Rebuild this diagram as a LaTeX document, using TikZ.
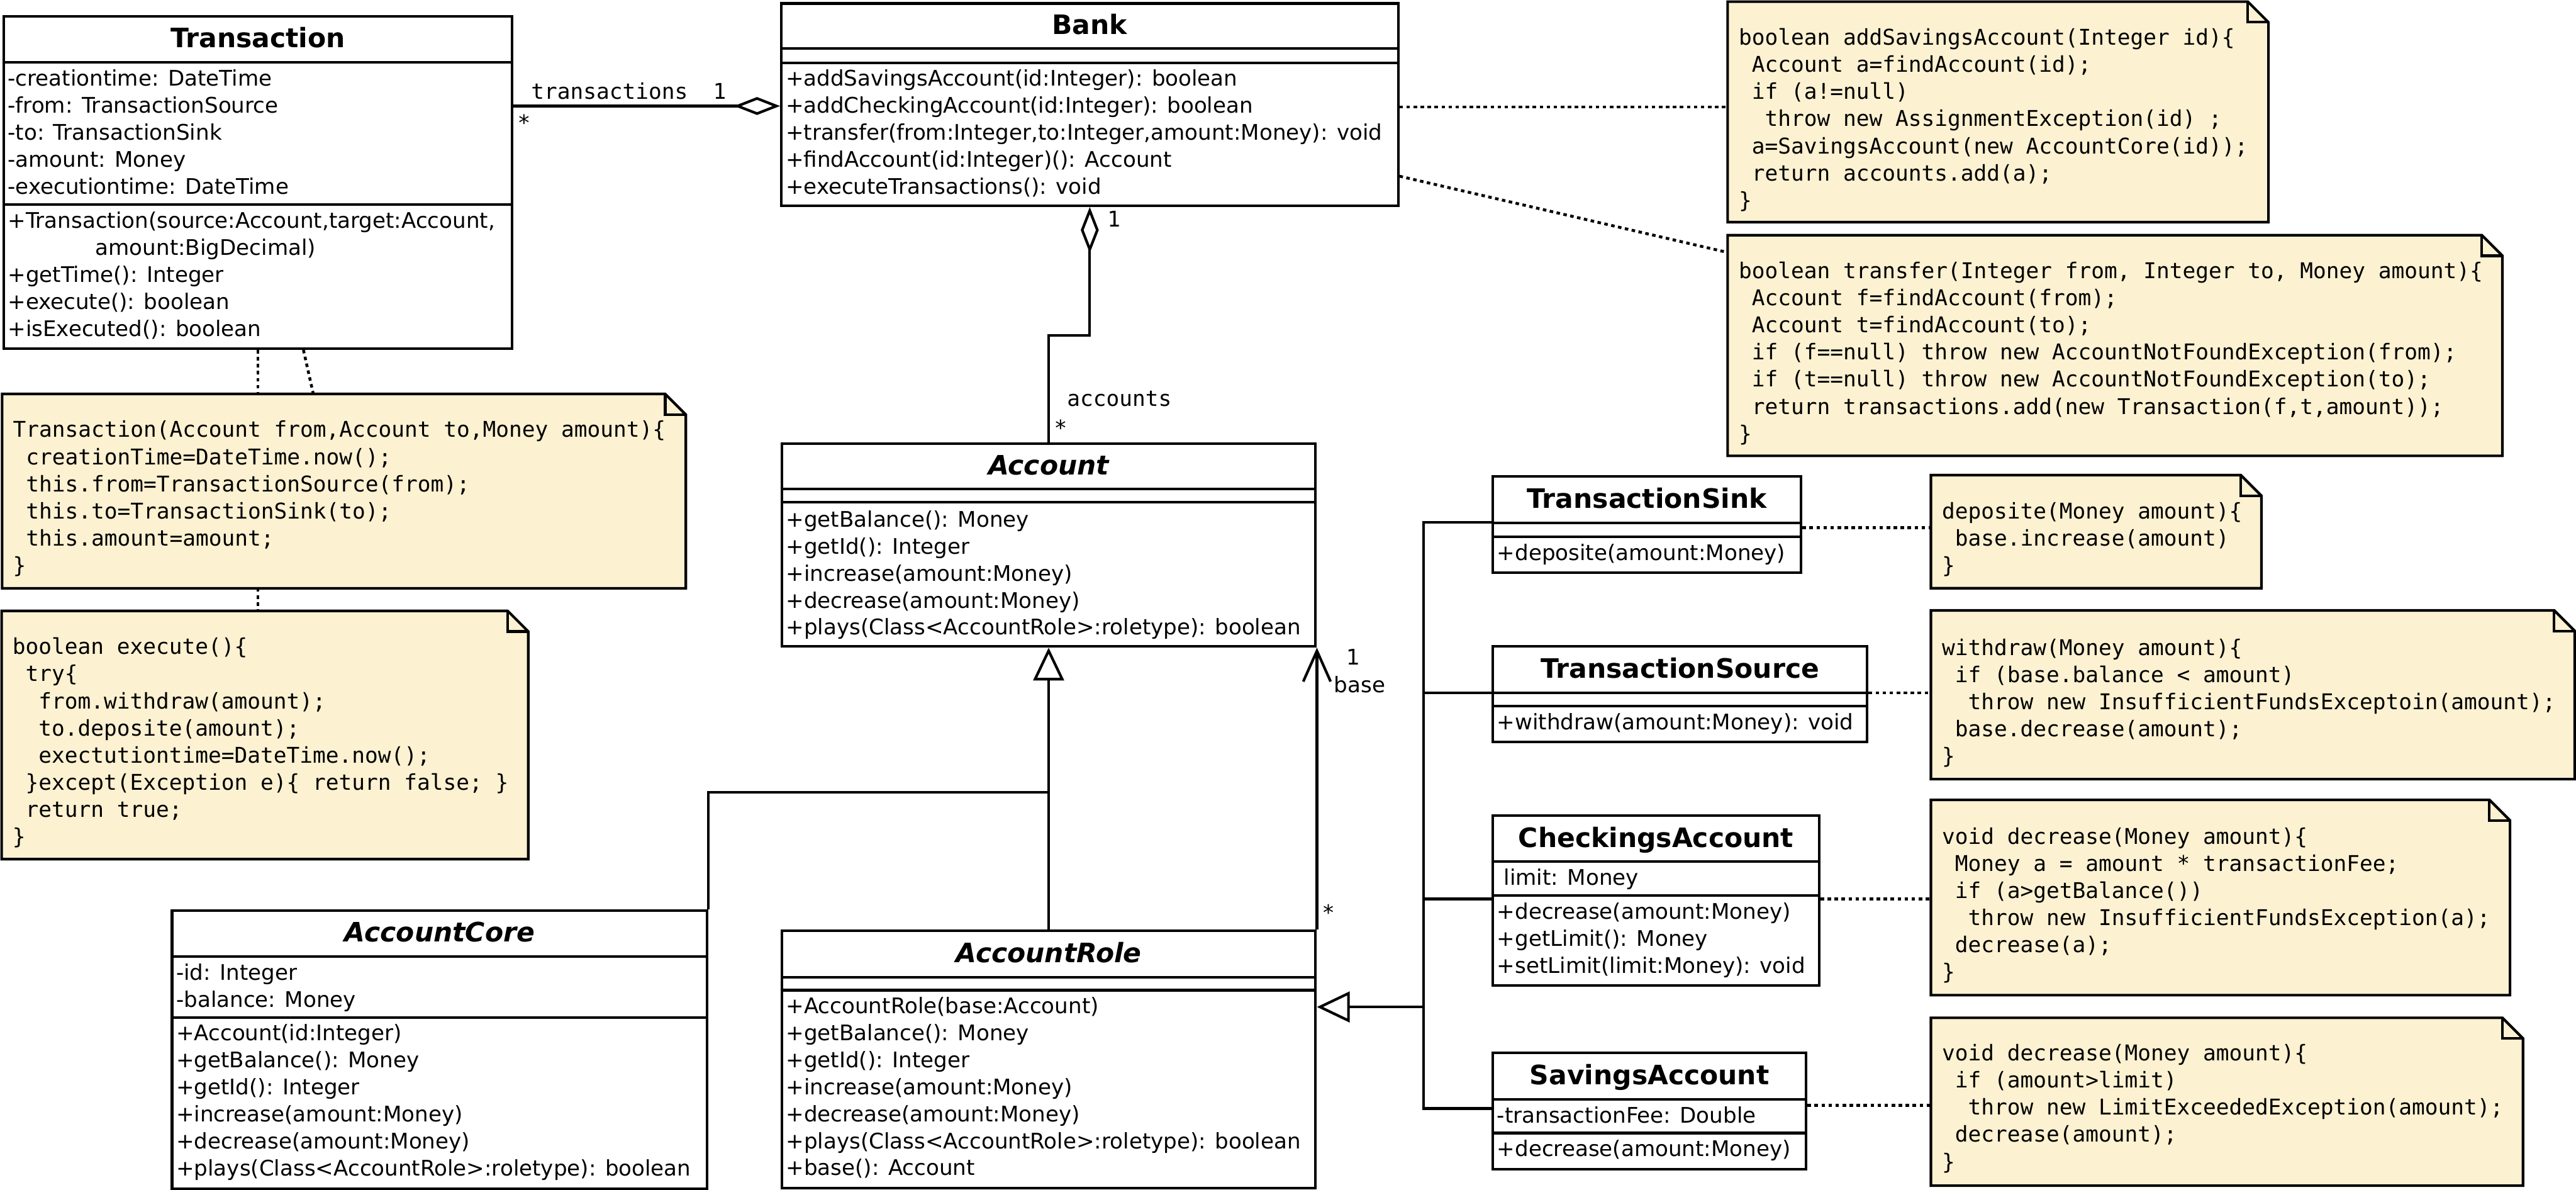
\documentclass[tikz,border=0pt]{standalone}
\usepackage{fontspec}
\setmainfont{DejaVu Sans}
\newfontfamily\codefont{DejaVu Sans Mono}
\usetikzlibrary{arrows.meta}
\definecolor{notefill}{RGB}{252,241,209}
\newcommand{\memberfont}{\fontsize{9.8}{12.3}\selectfont}
\newcommand{\titlefont}{\fontsize{12.2}{14}\selectfont\bfseries}
\newcommand{\notefont}{\codefont\fontsize{9.9}{12.4}\selectfont}
\newcommand{\lnup}{\rule{0pt}{10pt}}
\tikzstyle{classbox} = [rectangle, draw=black, line width=1.2pt, fill=white, anchor=north west, inner sep=0pt]
\tikzstyle{classname} = [font=\titlefont, anchor=base, inner sep=0pt]
\tikzstyle{abstractname} = [font=\titlefont\itshape, anchor=base, inner sep=0pt]
\tikzstyle{members} = [font=\memberfont, align=left, anchor=north west, inner sep=0pt]
\tikzstyle{notebox} = [rectangle, fill=notefill, anchor=north west, inner sep=0pt]
\tikzstyle{codetext} = [font=\notefont, align=left, anchor=north west, inner sep=0pt]
\tikzstyle{conn} = [line width=1.2pt]
\tikzstyle{aggr} = [line width=1.2pt, arrows={Diamond[open,length=21pt,width=8.2pt]-}]
\tikzstyle{gen} = [line width=1.2pt, arrows={-Triangle[open,length=15pt,width=14pt]}]
\tikzstyle{nav} = [line width=1.2pt, arrows={-Straight Barb[length=14pt,width=12.5pt]}]
\tikzstyle{noteline} = [line width=1.3pt, dash pattern=on 1.6pt off 1.6pt]
\tikzstyle{lbl} = [font=\notefont, anchor=base, inner sep=0pt]
\tikzstyle{slbl} = [font=\memberfont, anchor=base, inner sep=0pt]
% folded corner and outline of a note
\newcommand{\notefold}[1]{%
  \fill[white] ([xshift=-9.4pt]#1.north east) -- (#1.north east) -- ([yshift=-9.4pt]#1.north east) -- cycle;
  \draw[conn] (#1.north west) -- ([xshift=-9.4pt]#1.north east) -- ([yshift=-9.4pt]#1.north east) -- (#1.south east) -- (#1.south west) -- cycle;
  \draw[conn] ([xshift=-9.4pt]#1.north east) |- ([yshift=-9.4pt]#1.north east);
}
\begin{document}
\begin{tikzpicture}[x=0.75pt, y=-0.75pt]
\useasboundingbox (0,0) rectangle (1568,723.7);

% classes
\node[classbox, minimum width=232.1pt, minimum height=151.65pt] (trans) at (1.5,9.1) {};
\node[classname] (transname) at (trans.north |- 0,29) {Transaction};
\draw[conn] (trans.west |- 0,37.9) -- (trans.east |- 0,37.9);
\draw[conn] (trans.west |- 0,124.4) -- (trans.east |- 0,124.4);
\node[members] (transattr) at (4.5,38.8) {\lnup-creationtime: DateTime\\-from: TransactionSource\\-to: TransactionSink\\-amount: Money\\-executiontime: DateTime};
\node[members] (transops) at (4.5,125.3) {\lnup+Transaction(source:Account,target:Account,\\\hspace*{40pt}amount:BigDecimal)\\+getTime(): Integer\\+execute(): boolean\\+isExecuted(): boolean};

\node[classbox, minimum width=281.6pt, minimum height=92.3pt] (bank) at (474.8,1.3) {};
\node[classname] (bankname) at (bank.north |- 0,21) {Bank};
\draw[conn] (bank.west |- 0,29.6) -- (bank.east |- 0,29.6);
\draw[conn] (bank.west |- 0,38.4) -- (bank.east |- 0,38.4);
\node[members] (bankops) at (478,38.8) {\lnup+addSavingsAccount(id:Integer): boolean\\+addCheckingAccount(id:Integer): boolean\\+transfer(from:Integer,to:Integer,amount:Money): void\\+findAccount(id:Integer)(): Account\\+executeTransactions(): void};

\node[classbox, minimum width=243.75pt, minimum height=92.6pt] (account) at (475,269) {};
\node[abstractname] (accountname) at (account.north |- 0,289) {Account};
\draw[conn] (account.west |- 0,297.6) -- (account.east |- 0,297.6);
\draw[conn] (account.west |- 0,305.7) -- (account.east |- 0,305.7);
\node[members] (accountops) at (478.2,307.1) {\lnup+getBalance(): Money\\+getId(): Integer\\+increase(amount:Money)\\+decrease(amount:Money)\\+plays(Class<AccountRole>:roletype): boolean};

\node[classbox, minimum width=244.35pt, minimum height=126.8pt] (core) at (103.9,553.3) {};
\node[abstractname] (corename) at (core.north |- 0,573.2) {AccountCore};
\draw[conn] (core.west |- 0,582) -- (core.east |- 0,582);
\draw[conn] (core.west |- 0,619) -- (core.east |- 0,619);
\node[members] (coreattr) at (107,582.7) {\lnup-id: Integer\\-balance: Money};
\node[members] (coreops) at (107,619.7) {\lnup+Account(id:Integer)\\+getBalance(): Money\\+getId(): Integer\\+increase(amount:Money)\\+decrease(amount:Money)\\+plays(Class<AccountRole>:roletype): boolean};

\node[classbox, minimum width=243.75pt, minimum height=117.6pt] (role) at (475,565.4) {};
\node[abstractname] (rolename) at (role.north |- 0,585.5) {AccountRole};
\draw[conn] (role.west |- 0,594.5) -- (role.east |- 0,594.5);
\draw[conn] (role.west |- 0,602.5) -- (role.east |- 0,602.5);
\node[members] (roleops) at (478.2,603.2) {\lnup+AccountRole(base:Account)\\+getBalance(): Money\\+getId(): Integer\\+increase(amount:Money)\\+decrease(amount:Money)\\+plays(Class<AccountRole>:roletype): boolean\\+base(): Account};

\node[classbox, minimum width=140.7pt, minimum height=43.9pt] (sink) at (907.9,289.1) {};
\node[classname] (sinkname) at (sink.north |- 0,309.1) {TransactionSink};
\draw[conn] (sink.west |- 0,318.1) -- (sink.east |- 0,318.1);
\draw[conn] (sink.west |- 0,326.5) -- (sink.east |- 0,326.5);
\node[members] (sinkops) at (911,327.2) {\lnup+deposite(amount:Money)};

\node[classbox, minimum width=170.9pt, minimum height=43.6pt] (source) at (907.9,392.5) {};
\node[classname] (sourcename) at (source.north |- 0,412.5) {TransactionSource};
\draw[conn] (source.west |- 0,421.5) -- (source.east |- 0,421.5);
\draw[conn] (source.west |- 0,429.5) -- (source.east |- 0,429.5);
\node[members] (sourceops) at (911,430.2) {\lnup+withdraw(amount:Money): void};

\node[classbox, minimum width=148.95pt, minimum height=77.6pt] (check) at (907.9,495.4) {};
\node[classname] (checkname) at (check.north |- 0,515.4) {CheckingsAccount};
\draw[conn] (check.west |- 0,524.3) -- (check.east |- 0,524.3);
\draw[conn] (check.west |- 0,545) -- (check.east |- 0,545);
\node[members] (checkattr) at (911,525) {\lnup~limit: Money};
\node[members] (checkops) at (911,545.7) {\lnup+decrease(amount:Money)\\+getLimit(): Money\\+setLimit(limit:Money): void};

\node[classbox, minimum width=143pt, minimum height=53pt] (save) at (907.9,639.9) {};
\node[classname] (savename) at (save.north |- 0,659.9) {SavingsAccount};
\draw[conn] (save.west |- 0,668.8) -- (save.east |- 0,668.8);
\draw[conn] (save.west |- 0,689.4) -- (save.east |- 0,689.4);
\node[members] (saveattr) at (911,669.5) {\lnup-transactionFee: Double};
\node[members] (saveops) at (911,690.1) {\lnup+decrease(amount:Money)};

% notes
\node[notebox, minimum width=246.5pt, minimum height=100.2pt] (nadd) at (1051.6,1) {};
\notefold{nadd}
\node[codetext] (naddtext) at (1058.1,13.7) {\lnup boolean addSavingsAccount(Integer id)\{\\~Account a=findAccount(id);\\~if (a!=null)\\~~throw new AssignmentException(id) ;\\~a=SavingsAccount(new AccountCore(id));\\~return accounts.add(a);\\\}};

\node[notebox, minimum width=353.3pt, minimum height=100.3pt] (ntransfer) at (1051.6,143.1) {};
\notefold{ntransfer}
\node[codetext] (ntransfertext) at (1058.1,155.7) {\lnup boolean transfer(Integer from, Integer to, Money amount)\{\\~Account f=findAccount(from);\\~Account t=findAccount(to);\\~if (f==null) throw new AccountNotFoundException(from);\\~if (t==null) throw new AccountNotFoundException(to);\\~return transactions.add(new Transaction(f,t,amount));\\\}};

\node[notebox, minimum width=240pt, minimum height=112.9pt] (nexec) at (1,371.7) {};
\notefold{nexec}
\node[codetext] (nexectext) at (7.3,384.5) {\lnup boolean execute()\{\\~try\{\\~~from.withdraw(amount);\\~~to.deposite(amount);\\~~exectutiontime=DateTime.now();\\~\}except(Exception e)\{ return false; \}\\~return true;\\\}};
\draw[noteline] (trans.south) -- (trans.south |- nexec.north);

\node[notebox, minimum width=311.7pt, minimum height=88.3pt] (nctor) at (1.3,239.7) {};
\notefold{nctor}
\node[codetext] (nctortext) at (7.6,252.5) {\lnup Transaction(Account from,Account to,Money amount)\{\\~creationTime=DateTime.now();\\~this.from=TransactionSource(from);\\~this.to=TransactionSink(to);\\~this.amount=amount;\\\}};

\node[notebox, minimum width=150.5pt, minimum height=51.2pt] (nsink) at (1175.3,289.1) {};
\notefold{nsink}
\node[codetext] (nsinktext) at (1181.8,302.1) {\lnup deposite(Money amount)\{\\~base.increase(amount)\\\}};

\node[notebox, minimum width=293.55pt, minimum height=76.6pt] (nsource) at (1175.3,371.4) {};
\notefold{nsource}
\node[codetext] (nsourcetext) at (1181.8,385.1) {\lnup withdraw(Money amount)\{\\~if (base.balance < amount)\\~~throw new InsufficientFundsExceptoin(amount);\\~base.decrease(amount);\\\}};

\node[notebox, minimum width=264pt, minimum height=88.7pt] (ncheck) at (1175.3,486.7) {};
\notefold{ncheck}
\node[codetext] (nchecktext) at (1181.8,499.9) {\lnup void decrease(Money amount)\{\\~Money a = amount * transactionFee;\\~if (a>getBalance())\\~~throw new InsufficientFundsException(a);\\~decrease(a);\\\}};

\node[notebox, minimum width=269.9pt, minimum height=76.2pt] (nsave) at (1175.3,619.3) {};
\notefold{nsave}
\node[codetext] (nsavetext) at (1181.8,631.7) {\lnup void decrease(Money amount)\{\\~if (amount>limit)\\~~throw new LimitExceededException(amount);\\~decrease(amount);\\\}};

% connectors
\draw[aggr] (bank.west |- 0,64.5) -- (trans.east |- 0,64.5);
\node[lbl, anchor=base west] (transrole) at (323,60.4) {transactions};
\node[lbl] (transone) at (438,60.4) {1};
\node[lbl] (transmany) at (319,79.6) {*};

\draw[aggr] (bank.south) -- (bank.south |- 0,204) -| (account.north);
\node[lbl] (accone) at (678,138.1) {1};
\node[lbl] (accrole) at (681.3,247) {accounts};
\node[lbl] (accmany) at (645.6,265) {*};

\draw[gen] (role.north) -- (account.south);
\draw[conn] (core.north east) |- (account.south |- 0,482);

\draw[nav] (role.north east) -- (account.south east);
\node[slbl] (baseone) at (823.9,404.6) {1};
\node[slbl] (baserole) at (827.7,421.2) {base};
\node[slbl] (basemany) at (808.6,560) {*};

\coordinate (join) at (866.4,612.7);
\draw[conn] (sink.west |- 0,317.8) -| (join);
\draw[conn] (source.west |- 0,421.5) -| (join);
\draw[conn] (check.west |- 0,547) -| (join);
\draw[conn] (save.west |- 0,674.5) -| (join);
\draw[gen] (join) -- (role.east |- join);

% note links
\draw[noteline] (bank.east |- 0,65) -- (nadd.west |- 0,65);
\draw[noteline] (bank.east |- 0,107.2) -- (ntransfer.west |- 0,153.6);
\draw[noteline] (trans.south -| 184.7,0) -- (nctor.north -| 190.7,0);
\draw[noteline] (sink.east |- 0,321) -- (nsink.west |- 0,321);
\draw[noteline] (source.east |- 0,421.5) -- (nsource.west |- 0,421.5);
\draw[noteline] (check.east |- 0,547) -- (ncheck.west |- 0,547);
\draw[noteline] (save.east |- 0,672.5) -- (nsave.west |- 0,672.5);
\end{tikzpicture}
\end{document}
